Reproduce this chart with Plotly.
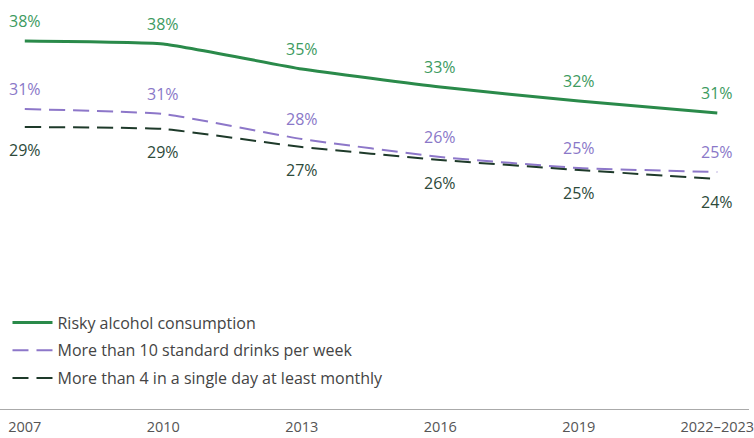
import plotly.graph_objects as go

years = ["2007", "2010", "2013", "2016", "2019", "2022–2023"]
risky = [38.0, 37.7, 35.2, 33.4, 32.0, 30.8]
more10 = [31.2, 30.7, 28.2, 26.4, 25.3, 24.9]
more4 = [29.4, 29.2, 27.4, 26.1, 25.1, 24.2]

series = [
    dict(name="Risky alcohol consumption", values=risky, line="#2a8a4a", text="#3d9a60",
         width=3, dash="solid", shift=20),
    dict(name="More than 10 standard drinks per week", values=more10, line="#8d77c9", text="#8a78c8",
         width=2, dash="16px,8px", shift=20),
    dict(name="More than 4 in a single day at least monthly", values=more4, line="#1e3a2a", text="#2d4a3a",
         width=2, dash="16px,8px", shift=-23),
]

FONT = "Open Sans, Noto Sans, sans-serif"
xs = list(range(len(years)))

fig = go.Figure()
annotations = []
for i, s in enumerate(series):
    fig.add_trace(go.Scatter(
        x=xs, y=s["values"], name=s["name"], mode="lines",
        line=dict(color=s["line"], width=s["width"], dash=s["dash"], shape="spline", smoothing=0.4),
        legendgroup=f"g{i}", hoverinfo="skip",
    ))
    for x, v in zip(xs, s["values"]):
        annotations.append(dict(
            x=x, y=v, xref="x", yref="y", text=f"{round(v)}%", showarrow=False,
            yshift=s["shift"], font=dict(family=FONT, size=16, color=s["text"]),
        ))

fig.update_layout(
    width=754, height=438,
    margin=dict(l=0, r=0, t=0, b=29),
    paper_bgcolor="white", plot_bgcolor="white",
    font=dict(family=FONT, size=14, color="#555555"),
    annotations=annotations,
    showlegend=True,
    legend=dict(
        x=0.01, y=0.253, xanchor="left", yanchor="top",
        font=dict(family=FONT, size=16, color="#444444"),
        bgcolor="rgba(0,0,0,0)", tracegroupgap=4, itemwidth=40,
    ),
    xaxis=dict(
        range=[-0.179, 5.229], tickmode="array", tickvals=xs, ticktext=years,
        showgrid=False, zeroline=False, showline=True, linecolor="#aaaaaa", linewidth=1,
        ticks="", ticklabelstandoff=5, ticklabeloverflow="allow",
        tickfont=dict(family=FONT, size=14.5, color="#555555"),
        fixedrange=True,
    ),
    yaxis=dict(range=[1.2, 42.1], visible=False, fixedrange=True),
)

fig.write_html("out.html", config={"displayModeBar": False},
               post_script="document.body.style.margin='0';")
